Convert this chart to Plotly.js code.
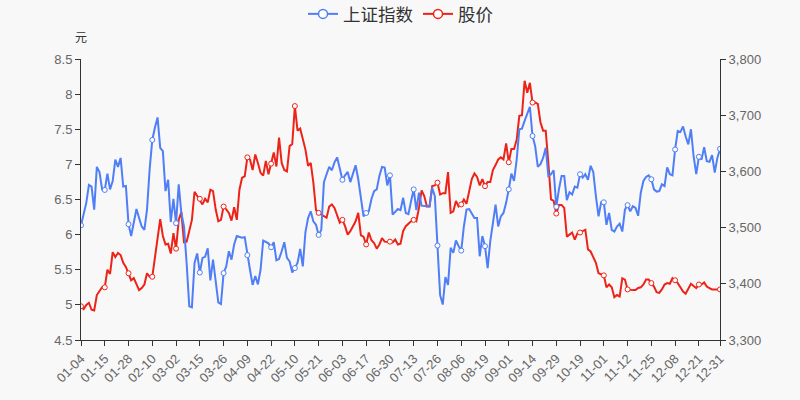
<!DOCTYPE html>
<html>
<head>
<meta charset="utf-8">
<script src="https://cdn.plot.ly/plotly-3.0.1.min.js"></script>
<style>
  html, body { margin: 0; padding: 0; background: #f8f8f8; }
  #chart { width: 800px; height: 400px; }
</style>
</head>
<body>
<div id="chart"></div>
<script>
// ----- data: trading days of the year (MM-DD) -----
const dates = [
  "01-04","01-05","01-06","01-07","01-08","01-11","01-12","01-13","01-14","01-15",
  "01-18","01-19","01-20","01-21","01-22","01-25","01-26","01-27","01-28","01-29",
  "02-01","02-02","02-03","02-04","02-05","02-08","02-09","02-10","02-18","02-19",
  "02-22","02-23","02-24","02-25","02-26",
  "03-01","03-02","03-03","03-04","03-05","03-08","03-09","03-10","03-11","03-12",
  "03-15","03-16","03-17","03-18","03-19","03-22","03-23","03-24","03-25","03-26",
  "03-29","03-30","03-31",
  "04-01","04-02","04-06","04-07","04-08","04-09","04-12","04-13","04-14","04-15",
  "04-16","04-19","04-20","04-21","04-22","04-23","04-26","04-27","04-28","04-29","04-30",
  "05-06","05-07","05-10","05-11","05-12","05-13","05-14","05-17","05-18","05-19",
  "05-20","05-21","05-24","05-25","05-26","05-27","05-28","05-31",
  "06-01","06-02","06-03","06-04","06-07","06-08","06-09","06-10","06-11","06-15",
  "06-16","06-17","06-18","06-21","06-22","06-23","06-24","06-25","06-28","06-29","06-30",
  "07-01","07-02","07-05","07-06","07-07","07-08","07-09","07-12","07-13","07-14",
  "07-15","07-16","07-19","07-20","07-21","07-22","07-23","07-26","07-27","07-28","07-29","07-30",
  "08-02","08-03","08-04","08-05","08-06","08-09","08-10","08-11","08-12","08-13",
  "08-16","08-17","08-18","08-19","08-20","08-23","08-24","08-25","08-26","08-27","08-30","08-31",
  "09-01","09-02","09-03","09-06","09-07","09-08","09-09","09-10","09-13","09-14",
  "09-15","09-16","09-17","09-22","09-23","09-24","09-27","09-28","09-29","09-30",
  "10-08","10-11","10-12","10-13","10-14","10-15","10-18","10-19","10-20","10-21",
  "10-22","10-25","10-26","10-27","10-28","10-29",
  "11-01","11-02","11-03","11-04","11-05","11-08","11-09","11-10","11-11","11-12",
  "11-15","11-16","11-17","11-18","11-19","11-22","11-23","11-24","11-25","11-26","11-29","11-30",
  "12-01","12-02","12-03","12-06","12-07","12-08","12-09","12-10","12-13","12-14",
  "12-15","12-16","12-17","12-20","12-21","12-22","12-23","12-24","12-27","12-28",
  "12-29","12-30","12-31"
];

// 上证指数 (right axis)
const indexValues = [
  3504,3526,3544,3576,3573,3532,3608,3599,3568,3567,
  3596,3568,3583,3621,3608,3624,3573,3574,3506,3485,
  3508,3533,3517,3502,3496,3532,3604,3656,3678,3696,
  3642,3636,3565,3585,3510,3551,3508,3577,3526,3502,
  3437,3360,3358,3437,3454,3420,3446,3448,3463,3406,
  3443,3407,3367,3364,3419,3431,3458,3443,3470,3485,
  3483,3482,3483,3451,3425,3398,3414,3399,3425,3477,
  3474,3472,3465,3474,3442,3444,3458,3474,3446,3440,
  3420,3428,3437,3462,3431,3492,3517,3529,3511,3505,
  3487,3496,3581,3595,3608,3602,3616,3625,3605,3585,
  3593,3599,3581,3595,3611,3586,3553,3520,3526,3529,
  3551,3565,3568,3592,3608,3607,3575,3593,3523,3529,
  3533,3531,3553,3526,3524,3547,3568,3531,3562,3539,
  3538,3538,3538,3571,3556,3468,3380,3363,3412,3398,
  3464,3455,3477,3467,3459,3502,3532,3533,3526,3517,
  3517,3449,3485,3467,3428,3476,3508,3541,3502,3520,
  3526,3544,3568,3596,3583,3621,3675,3676,3690,3702,
  3715,3663,3645,3608,3613,3624,3642,3592,3595,3602,
  3537,3568,3592,3592,3549,3563,3559,3573,3571,3595,
  3589,3595,3585,3610,3599,3556,3520,3545,3545,3505,
  3526,3496,3493,3502,3507,3493,3532,3540,3529,3538,
  3535,3521,3562,3583,3590,3593,3586,3568,3564,3565,
  3577,3574,3607,3595,3593,3639,3672,3670,3680,3662,
  3648,3675,3627,3595,3626,3621,3643,3618,3617,3629,
  3598,3624,3640
];

// 股价 (left axis, 元)
const priceValues = [
  4.98,4.94,5.00,5.03,4.93,4.92,5.14,5.20,5.25,5.25,
  5.50,5.44,5.75,5.68,5.74,5.71,5.60,5.54,5.45,5.35,
  5.38,5.29,5.21,5.24,5.29,5.45,5.40,5.40,5.69,5.98,
  6.22,5.98,5.86,5.87,5.73,6.02,5.80,6.21,6.32,5.89,
  5.90,6.05,6.21,6.61,6.55,6.51,6.43,6.51,6.46,6.64,
  6.62,6.36,6.19,6.21,6.40,6.36,6.31,6.20,6.39,6.21,
  6.64,6.81,6.83,7.10,7.07,6.92,7.14,7.02,6.88,6.84,
  7.05,6.86,7.01,7.17,6.97,7.38,7.02,6.92,6.90,7.26,
  7.29,7.83,7.48,7.51,7.36,7.21,6.98,7.02,6.74,6.35,
  6.31,6.29,6.26,6.24,6.40,6.43,6.38,6.26,6.17,6.21,
  6.12,6.00,6.05,6.12,6.19,6.31,5.99,5.97,5.86,6.03,
  5.92,5.88,5.80,5.86,5.95,5.90,5.90,5.90,5.89,5.93,
  5.86,5.87,6.05,6.12,6.16,6.19,6.21,6.19,6.38,6.63,
  6.55,6.40,6.40,6.69,6.70,6.74,6.57,6.59,6.59,6.89,
  6.31,6.33,6.48,6.40,6.43,6.50,6.44,6.63,6.79,6.87,
  6.82,6.70,6.79,6.69,6.75,6.75,6.92,6.99,7.07,7.10,
  7.07,7.30,7.03,7.22,7.22,7.35,7.69,7.70,8.19,8.02,
  8.16,7.88,7.88,7.86,7.60,7.48,7.48,7.02,6.50,6.48,
  6.30,6.42,6.42,6.38,5.97,6.00,6.03,5.93,6.02,6.03,
  6.05,6.07,5.79,5.76,5.68,5.60,5.45,5.44,5.42,5.25,
  5.29,5.25,5.11,5.14,5.12,5.38,5.36,5.22,5.21,5.21,
  5.21,5.24,5.25,5.29,5.36,5.36,5.31,5.26,5.18,5.17,
  5.22,5.29,5.31,5.30,5.38,5.35,5.31,5.25,5.19,5.16,
  5.22,5.30,5.27,5.24,5.29,5.29,5.32,5.26,5.24,5.22,
  5.22,5.22,5.22
];

// x-axis labels (also where the small circles are drawn)
const tickLabels = [
  "01-04","01-15","01-28","02-10","03-02","03-15","03-26","04-09","04-22","05-10",
  "05-21","06-03","06-17","06-30","07-13","07-26","08-06","08-19","09-01","09-14",
  "09-29","10-19","11-01","11-12","11-25","12-08","12-21","12-31"
];

const BLUE = "#4f7ef6";
const RED = "#ee2318";
const FONT = "Liberation Sans, Noto Sans CJK SC, sans-serif";

// pick y values at the labelled dates
function pick(values) {
  return tickLabels.map(d => values[dates.indexOf(d)]);
}

// one series = line + open circles at labels + a legend-only entry
function seriesTraces(name, values, color, yaxis) {
  const line = {
    x: dates, y: values, yaxis: yaxis,
    type: "scatter", mode: "lines",
    line: { color: color, width: 2 },
    showlegend: false, hoverinfo: "skip"
  };
  const marks = {
    x: tickLabels, y: pick(values), yaxis: yaxis,
    type: "scatter", mode: "markers",
    marker: { symbol: "circle", size: 5, color: "#ffffff", line: { color: color, width: 1 } },
    showlegend: false, hoverinfo: "skip"
  };
  const legendItem = {
    x: [null], y: [null], yaxis: yaxis,
    type: "scatter", mode: "lines+markers", name: name,
    line: { color: color, width: 2 },
    marker: { symbol: "circle", size: 9, color: "#ffffff", line: { color: color, width: 1.5 } }
  };
  return [line, marks, legendItem];
}

const traces = [
  ...seriesTraces("上证指数", indexValues, BLUE, "y2"),
  ...seriesTraces("股价", priceValues, RED, "y")
];

const axisCommon = {
  showgrid: false, zeroline: false,
  showline: true, linecolor: "#333", linewidth: 1,
  ticks: "outside", ticklen: 5, tickcolor: "#333",
  tickfont: { family: FONT, size: 13, color: "#666" }
};

const layout = {
  width: 800, height: 400,
  margin: { l: 81, r: 80, t: 59, b: 60, autoexpand: false },
  paper_bgcolor: "#f8f8f8",
  plot_bgcolor: "#f8f8f8",
  font: { family: FONT, color: "#333" },
  showlegend: true,
  legend: {
    orientation: "h", x: 0.5, xanchor: "center",
    yref: "container", y: 0.965, yanchor: "middle",
    font: { family: FONT, size: 17.5, color: "#333" },
    bgcolor: "rgba(0,0,0,0)"
  },
  xaxis: Object.assign({}, axisCommon, {
    type: "category",
    categoryorder: "array", categoryarray: dates,
    range: [0, dates.length - 1],
    tickmode: "array", tickvals: tickLabels, ticktext: tickLabels,
    tickangle: -45
  }),
  yaxis: Object.assign({}, axisCommon, {
    range: [4.5, 8.5], dtick: 0.5, tick0: 4.5
  }),
  yaxis2: Object.assign({}, axisCommon, {
    overlaying: "y", side: "right",
    range: [3300, 3800], dtick: 100, tick0: 3300,
    tickformat: ",d"
  }),
  annotations: [{
    text: "元", xref: "paper", yref: "paper",
    x: 0, y: 1, yshift: 21, xanchor: "center", yanchor: "middle",
    showarrow: false,
    font: { family: FONT, size: 12, color: "#333" }
  }]
};

Plotly.newPlot("chart", traces, layout, { displayModeBar: false, staticPlot: true });
</script>
</body>
</html>
